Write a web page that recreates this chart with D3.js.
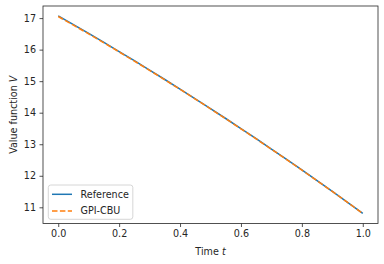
<!DOCTYPE html>
<html><head><meta charset="utf-8">
<script src="https://cdn.jsdelivr.net/npm/d3@7"></script>
<style>body{margin:0;background:#fff}svg{display:block}text{font-family:"DejaVu Sans",sans-serif}</style>
</head><body>
<script>
const times = [0,0.05,0.1,0.15,0.2,0.25,0.3,0.35,0.4,0.45,0.5,0.55,0.6,0.65,0.7,0.75,0.8,0.85,0.9,0.95,1.0];
const referenceV = [17.07,16.793,16.513,16.228,15.940,15.648,15.352,15.053,14.749,14.442,14.131,13.816,13.497,13.175,12.848,12.518,12.184,11.846,11.505,11.159,10.81];
const gpiCbuV = [17.05,16.775,16.497,16.214,15.928,15.637,15.342,15.044,14.741,14.434,14.124,13.809,13.491,13.169,12.843,12.513,12.180,11.842,11.502,11.157,10.80];
const xTicks = [0.0,0.2,0.4,0.6,0.8,1.0];
const yTicks = [11,12,13,14,15,16,17];
const seriesNames = ["Reference","GPI-CBU"];

const W=384,H=264, L=43, R=378, T=6, B=223.5;
const fs = 9.6;
const svg = d3.select("body").append("svg").attr("width",W).attr("height",H);
const x = d3.scaleLinear().domain([-0.05,1.05]).range([L,R]);
const yMin = 10.80, yMax = 17.07, pad=(yMax-yMin)*0.05;
const y = d3.scaleLinear().domain([yMin-pad,yMax+pad]).range([B,T]);

const line = d3.line().x((d,i)=>x(times[i])).y(d=>y(d));
svg.append("path").datum(referenceV).attr("d",line).attr("fill","none").attr("stroke","#1f77b4").attr("stroke-width",1.5);
svg.append("path").datum(gpiCbuV).attr("d",line).attr("fill","none").attr("stroke","#ff7f0e").attr("stroke-width",1.5).attr("stroke-dasharray","5.5,2.4");

const xa = svg.append("g").attr("transform",`translate(0,${B})`).call(d3.axisBottom(x).tickValues(xTicks).tickFormat(d3.format(".1f")).tickSize(3.5).tickPadding(3.5));
const ya = svg.append("g").attr("transform",`translate(${L},0)`).call(d3.axisLeft(y).tickValues(yTicks).tickFormat(d3.format("d")).tickSize(3.5).tickPadding(3.5));
[xa,ya].forEach(a=>{a.select(".domain").remove();a.selectAll("line").attr("stroke","#262626").attr("stroke-width",0.8);a.selectAll("text").attr("font-size",fs).attr("fill","#262626").attr("font-family","DejaVu Sans");});
svg.append("rect").attr("x",L).attr("y",T).attr("width",R-L).attr("height",B-T).attr("fill","none").attr("stroke","#262626").attr("stroke-width",0.8);

svg.append("text").attr("x",(L+R)/2).attr("y",255).attr("text-anchor","middle").attr("font-size",fs).attr("fill","#262626")
  .call(t=>{t.append("tspan").text("Time ");t.append("tspan").attr("font-style","italic").text("t");});
svg.append("text").attr("transform",`translate(16.5,${(T+B)/2}) rotate(-90)`).attr("text-anchor","middle").attr("font-size",fs).attr("fill","#262626")
  .call(t=>{t.append("tspan").text("Value function ");t.append("tspan").attr("font-style","italic").text("V");});

// legend
const lg = svg.append("g");
const box = lg.append("rect").attr("x",48.3).attr("y",185).attr("height",34.3).attr("rx",2.5).attr("fill","#fff").attr("fill-opacity",0.8).attr("stroke","#cccccc").attr("stroke-width",0.8);
const colors=["#1f77b4","#ff7f0e"], dashes=[null,"5.5,2.4"];
let maxW=0;
seriesNames.forEach((n,i)=>{
  const yy = 194.3 + i*16.7;
  lg.append("line").attr("x1",52).attr("x2",72).attr("y1",yy).attr("y2",yy).attr("stroke",colors[i]).attr("stroke-width",1.5).attr("stroke-dasharray",dashes[i]);
  const tx = lg.append("text").attr("x",80.5).attr("y",yy).attr("dy","0.35em").attr("font-size",fs).attr("fill","#262626").text(n);
  maxW=Math.max(maxW,tx.node().getComputedTextLength());
});
box.attr("width",80.5+maxW+4-48.3);
</script>
</body></html>
